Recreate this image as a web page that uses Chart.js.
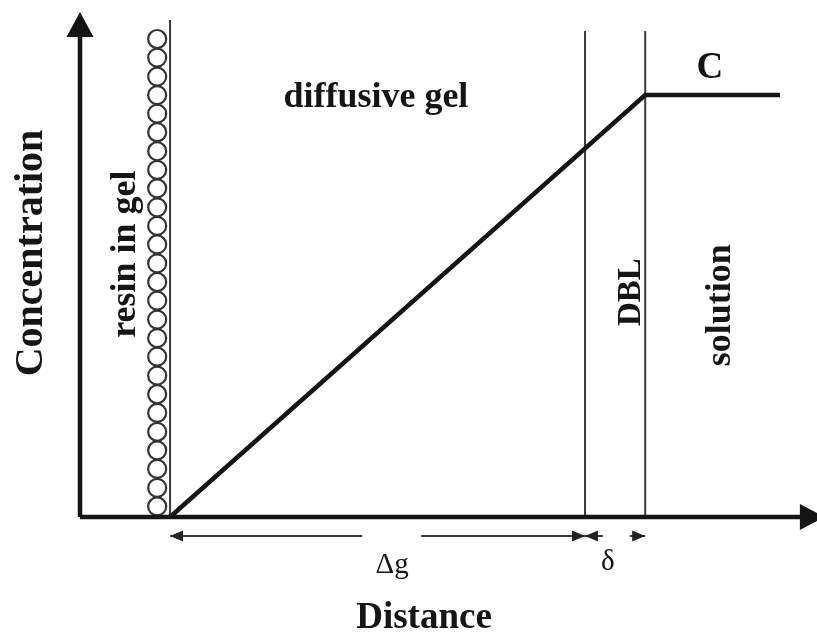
<!DOCTYPE html>
<html>
<head>
<meta charset="utf-8">
<script src="https://cdn.jsdelivr.net/npm/chart.js@4.4.1/dist/chart.umd.min.js"></script>
<style>
  html, body { margin: 0; padding: 0; background: #fff; }
  canvas { display: block; }
</style>
</head>
<body>
<canvas id="chart" width="817" height="632"></canvas>
<script>
// distance axis: resin/gel boundary = 0, gel/DBL boundary = 10 (Δg)
const xRange = [-2.17, 15.59];
const yRange = [-0.1, 1.197];

// concentration profile
const profileX = [0, 11.45, 14.7];
const profileY = [0, 1, 1];

// boundaries: resin|gel, gel|DBL, DBL|solution
const boundaryX = [0, 10, 11.45];
const boundaryTop = [1.178, 1.152, 1.152];

// resin beads
const beadX = -0.31;
const beadY = [0.025, 0.069, 0.114, 0.158, 0.202, 0.247, 0.291, 0.335, 0.380, 0.424,
  0.468, 0.513, 0.557, 0.601, 0.646, 0.690, 0.734, 0.779, 0.823, 0.867,
  0.912, 0.956, 1.000, 1.044, 1.089, 1.133];

// dimension lines below the axis
const dimY = -0.045;
const gelDim = [[0, 4.63], [6.05, 10]];
const dblDim = [[10, 10.43], [11.08, 11.45]];

const ink = '#151515';
const thin = '#3a3a3a';

function seg(xs, ys, width, color, order) {
  return {
    data: xs.map((x, i) => ({ x: x, y: ys[i] })),
    showLine: true,
    borderColor: color,
    borderWidth: width,
    pointRadius: 0,
    clip: false,
    order: order
  };
}

const datasets = [];
datasets.push(seg(profileX, profileY, 4.5, ink, 1));
boundaryX.forEach((x, i) => datasets.push(seg([x, x], [0, boundaryTop[i]], 2, thin, 2)));
datasets.push({
  data: beadY.map(y => ({ x: beadX, y: y })),
  pointRadius: 9,
  pointBorderWidth: 2.2,
  pointBorderColor: '#333',
  pointBackgroundColor: '#fff',
  showLine: false,
  clip: false,
  order: 3
});
// axes
datasets.push(seg([xRange[0], 15.3], [0, 0], 4.5, ink, 0));
datasets.push(seg([xRange[0], xRange[0]], [0, 1.14], 4.5, ink, 0));
gelDim.concat(dblDim).forEach(s => datasets.push(seg(s, [dimY, dimY], 2, thin, 2)));

function arrowHead(ctx, x, y, dir, len, wid) {
  // dir: angle the tip points to, in radians
  ctx.save();
  ctx.translate(x, y);
  ctx.rotate(dir);
  ctx.beginPath();
  ctx.moveTo(0, 0);
  ctx.lineTo(-len, -wid / 2);
  ctx.lineTo(-len, wid / 2);
  ctx.closePath();
  ctx.fill();
  ctx.restore();
}

function rotatedText(ctx, text, x, y) {
  ctx.save();
  ctx.translate(x, y);
  ctx.rotate(-Math.PI / 2);
  ctx.fillText(text, 0, 0);
  ctx.restore();
}

const annotations = {
  id: 'annotations',
  afterDatasetsDraw(chart) {
    const { ctx, scales: { x, y } } = chart;
    const px = v => x.getPixelForValue(v);
    const py = v => y.getPixelForValue(v);
    ctx.save();
    ctx.fillStyle = ink;

    // axis arrows
    arrowHead(ctx, px(xRange[0]), py(1.197), -Math.PI / 2, 25, 27);
    arrowHead(ctx, px(15.78), py(0), 0, 25, 26);

    // dimension arrows
    ctx.fillStyle = '#222';
    arrowHead(ctx, px(gelDim[0][0]), py(dimY), Math.PI, 13, 11);
    arrowHead(ctx, px(gelDim[1][1]), py(dimY), 0, 13, 11);
    arrowHead(ctx, px(dblDim[0][0]), py(dimY), Math.PI, 13, 11);
    arrowHead(ctx, px(dblDim[1][1]), py(dimY), 0, 13, 11);

    ctx.fillStyle = ink;
    ctx.textAlign = 'center';
    ctx.textBaseline = 'alphabetic';
    const bold = s => 'bold ' + s + 'px "Liberation Serif", "Times New Roman", serif';
    const reg = s => s + 'px "Liberation Serif", "Times New Roman", serif';

    ctx.font = bold(37);
    ctx.fillText('C', px(13.01), py(1.04));
    ctx.font = bold(36);
    ctx.fillText('diffusive gel', px(4.96), py(0.972));
    rotatedText(ctx, 'resin in gel', px(-0.84), py(0.623));
    rotatedText(ctx, 'solution', px(13.49), py(0.502));
    ctx.font = bold(33);
    rotatedText(ctx, 'DBL', px(11.33), py(0.533));

    ctx.font = reg(29);
    ctx.fillText('\u0394g', px(5.35), py(-0.133));
    ctx.fillText('\u03b4', px(10.55), py(-0.126));

    // axis titles
    ctx.font = bold(37);
    ctx.fillText('Distance', 424, 628);
    ctx.font = bold(40);
    rotatedText(ctx, 'Concentration', 42, 253);
    ctx.restore();
  }
};

new Chart(document.getElementById('chart'), {
  type: 'scatter',
  data: { datasets: datasets },
  options: {
    responsive: false,
    animation: false,
    devicePixelRatio: 1,
    layout: { autoPadding: false, padding: { left: 80, right: 0, top: 12, bottom: 72.8 } },
    scales: {
      x: { type: 'linear', display: false, min: xRange[0], max: xRange[1] },
      y: { type: 'linear', display: false, min: yRange[0], max: yRange[1] }
    },
    plugins: {
      legend: { display: false },
      tooltip: { enabled: false }
    },
    events: []
  },
  plugins: [annotations]
});
</script>
</body>
</html>
